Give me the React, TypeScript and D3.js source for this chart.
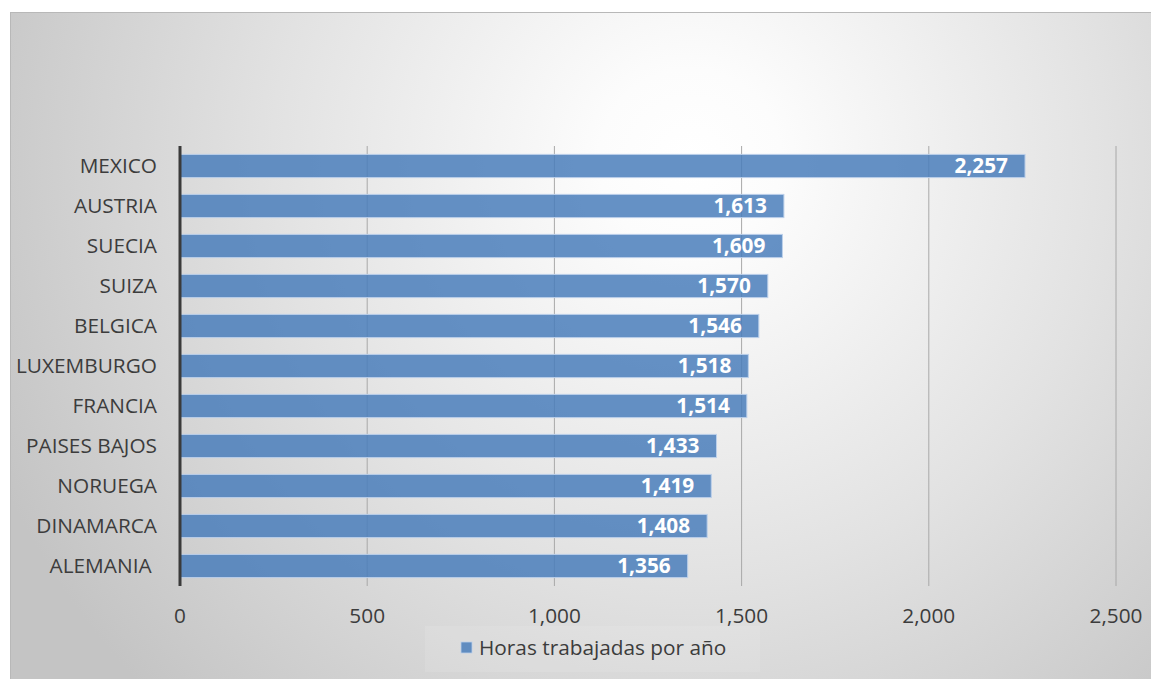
import React from 'react'
import * as d3 from 'd3'

// Hours worked per year, by country (top to bottom as drawn)
const countries = [
  'MEXICO', 'AUSTRIA', 'SUECIA', 'SUIZA', 'BELGICA', 'LUXEMBURGO',
  'FRANCIA', 'PAISES BAJOS', 'NORUEGA', 'DINAMARCA', 'ALEMANIA ',
]
const hours = [2257, 1613, 1609, 1570, 1546, 1518, 1514, 1433, 1419, 1408, 1356]
const xTicks = [0, 500, 1000, 1500, 2000, 2500]
const seriesName = 'Horas trabajadas por año'

const W = 1151
const H = 679
const FONT = '"Open Sans", sans-serif'
const FS = 20.8

const App: React.FC = () => {
  const x = d3.scaleLinear().domain([0, 2500]).range([180, 1116])
  const y = d3.scaleBand<string>()
    .domain(countries)
    .range([146, 586])
    .paddingInner(0.42)
    .paddingOuter(0.21)
  const fmt = d3.format(',')
  const rows = countries.map((c, i) => ({ country: c, value: hours[i] }))
  const [y0, y1] = y.range()

  return (
    <svg width={W} height={H} style={{ position: 'fixed', left: 0, top: 0 }} fontFamily={FONT}>
      <defs>
        <radialGradient id="bg" gradientUnits="userSpaceOnUse" cx={690} cy={160} r={760}>
          <stop offset="0" stopColor="#ffffff" />
          <stop offset="0.12" stopColor="#fcfcfc" />
          <stop offset="0.55" stopColor="#e2e2e2" />
          <stop offset="1" stopColor="#c4c4c4" />
        </radialGradient>
      </defs>
      <rect x={0} y={0} width={W} height={H} fill="#ffffff" />
      <rect x={10.5} y={12.5} width={W} height={H} fill="url(#bg)" stroke="#b8b8b8" strokeWidth={1} />

      {/* gridlines */}
      {xTicks.slice(1).map(t => (
        <line key={t} x1={x(t)} x2={x(t)} y1={y0} y2={y1} stroke="#a8a8a8" strokeWidth={1} />
      ))}

      {/* bars */}
      {rows.map(d => (
        <rect key={d.country}
          x={x(0)} y={y(d.country)}
          width={x(d.value) - x(0)} height={y.bandwidth()}
          fill="#4a7ebb" fillOpacity={0.85}
          stroke="#bcd0ea" strokeWidth={1} />
      ))}

      {/* value labels */}
      {rows.map(d => (
        <text key={d.country}
          x={x(d.value) - 17} y={(y(d.country) as number) + y.bandwidth() / 2}
          dy="0.36em" textAnchor="end" fill="#ffffff" fontWeight="bold" fontSize={FS}>
          {fmt(d.value)}
        </text>
      ))}

      {/* axis line */}
      <line x1={x(0)} x2={x(0)} y1={y0} y2={y1} stroke="#3a3a3a" strokeWidth={3} />

      {/* category labels */}
      {countries.map(c => (
        <text key={c} x={157} y={(y(c) as number) + y.bandwidth() / 2} dy="0.36em"
          textAnchor="end" fill="#3c3c3c" fontSize={FS} style={{ whiteSpace: 'pre' }}>
          {c}
        </text>
      ))}

      {/* tick labels */}
      {xTicks.map(t => (
        <text key={t} x={x(t)} y={623} textAnchor="middle" fill="#3c3c3c" fontSize={FS}>
          {fmt(t)}
        </text>
      ))}

      {/* legend */}
      <rect x={425} y={626} width={335} height={46} fill="#ffffff" fillOpacity={0.1} />
      <rect x={461} y={642} width={11} height={11} fill="#4a7ebb" fillOpacity={0.85} stroke="#bcd0ea" strokeWidth={0.8} />
      <text x={479} y={655} fill="#3c3c3c" fontSize={FS}>{seriesName}</text>
    </svg>
  )
}

export default App
